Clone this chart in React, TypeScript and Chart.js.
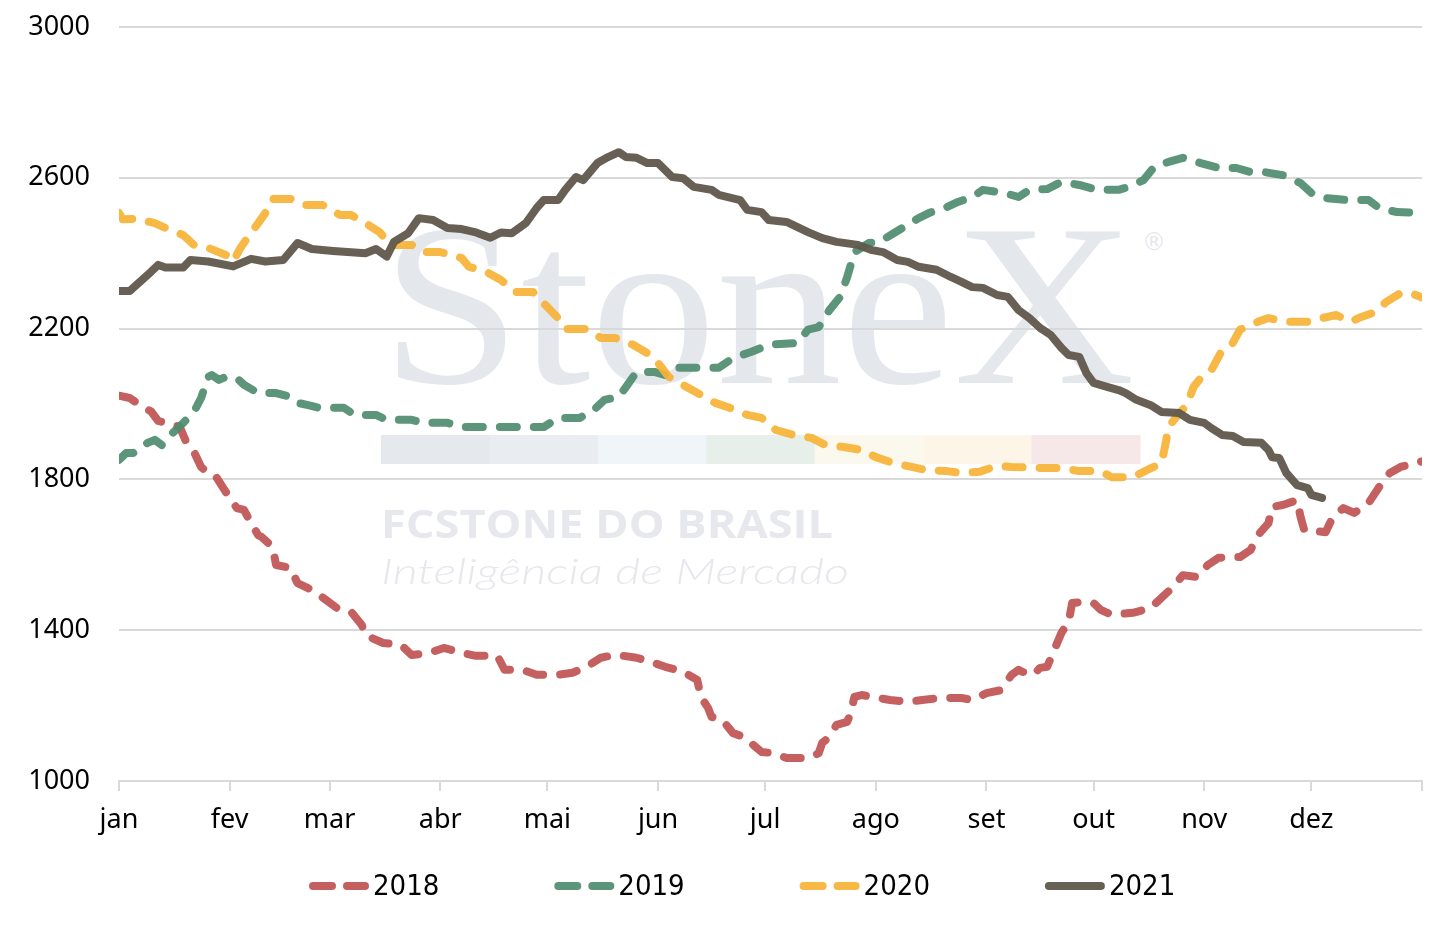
import { useEffect, useRef } from 'react';
import { Chart, registerables } from 'chart.js';

Chart.register(...registerables);

// eixo x: dia do ano, rotulado no inicio de cada mes
const monthLabels = ['jan', 'fev', 'mar', 'abr', 'mai', 'jun', 'jul', 'ago', 'set', 'out', 'nov', 'dez'];
const monthStartDays = [0, 31, 59, 90, 120, 151, 181, 212, 243, 273, 304, 334, 365];
const yTicks = [1000, 1400, 1800, 2200, 2600, 3000];

const seriesLabels = ['2018', '2019', '2020', '2021'];
const seriesColors = ['rgba(192, 82, 82, 0.92)', 'rgba(78, 140, 111, 0.92)', 'rgba(247, 178, 54, 0.92)', 'rgba(96, 87, 76, 0.95)'];

const days2018 = [0, 3, 5, 9, 11, 13, 16, 17, 19, 21, 23, 25, 27, 29, 31, 33, 35, 37, 39, 40, 43, 44, 48, 50, 54, 55, 58, 61, 65, 68, 69, 74, 79, 82, 87, 91, 96, 100, 106, 108, 113, 117, 123, 127, 131, 135, 139, 145, 149, 153, 158, 162, 163, 165, 166, 169, 172, 175, 177, 180, 183, 187, 192, 194, 196, 197, 199, 201, 204, 205, 206, 208, 211, 216, 221, 225, 230, 236, 239, 243, 247, 250, 252, 253, 256, 258, 260, 262, 264, 266, 267, 270, 273, 275, 278, 284, 289, 292, 295, 298, 302, 305, 308, 314, 317, 319, 322, 323, 326, 330, 331, 332, 338, 340, 343, 346, 350, 353, 356, 359, 365];
const values2018 = [2022, 2016, 2003, 1980, 1955, 1950, 1942, 1940, 1895, 1873, 1833, 1817, 1810, 1780, 1751, 1724, 1719, 1684, 1652, 1647, 1621, 1573, 1565, 1525, 1507, 1501, 1480, 1459, 1449, 1414, 1387, 1366, 1361, 1334, 1340, 1353, 1340, 1332, 1332, 1295, 1295, 1282, 1282, 1287, 1303, 1327, 1335, 1327, 1316, 1303, 1290, 1268, 1223, 1194, 1170, 1162, 1127, 1117, 1101, 1077, 1074, 1061, 1061, 1064, 1074, 1101, 1117, 1149, 1157, 1181, 1223, 1228, 1223, 1215, 1210, 1215, 1220, 1220, 1215, 1233, 1241, 1281, 1295, 1290, 1281, 1300, 1303, 1348, 1393, 1422, 1472, 1475, 1472, 1454, 1441, 1446, 1459, 1486, 1512, 1546, 1541, 1573, 1592, 1594, 1613, 1652, 1684, 1727, 1732, 1745, 1700, 1666, 1660, 1700, 1724, 1711, 1737, 1780, 1817, 1833, 1848];

const days2019 = [0, 2, 4, 8, 10, 12, 15, 18, 21, 23, 25, 26, 28, 30, 33, 35, 39, 44, 48, 50, 53, 56, 63, 66, 72, 75, 82, 85, 92, 96, 101, 111, 119, 123, 129, 133, 136, 140, 142, 145, 150, 153, 156, 163, 168, 172, 177, 182, 190, 193, 196, 199, 202, 204, 206, 210, 213, 217, 220, 224, 227, 232, 235, 239, 242, 248, 252, 255, 260, 264, 269, 274, 280, 283, 287, 290, 294, 298, 303, 308, 313, 317, 321, 326, 331, 334, 338, 344, 350, 353, 358, 365];
const values2019 = [1852, 1870, 1870, 1897, 1905, 1891, 1923, 1950, 1979, 2016, 2072, 2077, 2064, 2072, 2069, 2051, 2029, 2029, 2019, 2003, 1997, 1990, 1990, 1971, 1971, 1958, 1958, 1950, 1950, 1939, 1939, 1939, 1939, 1963, 1963, 1984, 2011, 2019, 2045, 2085, 2085, 2077, 2096, 2096, 2096, 2122, 2138, 2157, 2162, 2197, 2204, 2249, 2284, 2337, 2403, 2427, 2430, 2453, 2470, 2493, 2507, 2523, 2536, 2549, 2568, 2560, 2549, 2568, 2570, 2589, 2581, 2568, 2568, 2576, 2594, 2629, 2642, 2653, 2639, 2626, 2626, 2615, 2615, 2607, 2586, 2560, 2546, 2541, 2541, 2520, 2509, 2507];

const days2020 = [0, 1, 5, 10, 13, 18, 21, 25, 30, 32, 34, 36, 39, 41, 43, 48, 52, 57, 62, 65, 69, 73, 76, 82, 85, 90, 96, 98, 103, 107, 111, 116, 120, 123, 125, 131, 135, 139, 144, 148, 151, 154, 159, 163, 167, 171, 176, 180, 184, 189, 194, 198, 203, 208, 212, 216, 222, 226, 232, 236, 241, 246, 250, 259, 264, 269, 275, 278, 284, 288, 292, 293, 294, 297, 299, 301, 303, 306, 309, 312, 314, 319, 322, 327, 333, 337, 341, 345, 348, 352, 355, 359, 362, 365];
const values2020 = [2507, 2490, 2491, 2480, 2467, 2448, 2422, 2414, 2395, 2378, 2414, 2441, 2480, 2507, 2544, 2544, 2528, 2528, 2501, 2501, 2480, 2456, 2422, 2422, 2403, 2403, 2387, 2364, 2350, 2329, 2297, 2297, 2257, 2228, 2199, 2199, 2175, 2175, 2157, 2135, 2109, 2072, 2045, 2024, 2003, 1990, 1971, 1963, 1931, 1918, 1910, 1891, 1886, 1878, 1859, 1846, 1833, 1825, 1822, 1817, 1820, 1836, 1833, 1830, 1830, 1822, 1822, 1806, 1806, 1825, 1843, 1886, 1939, 1976, 1995, 2045, 2069, 2090, 2143, 2162, 2197, 2218, 2228, 2218, 2218, 2228, 2236, 2218, 2231, 2244, 2271, 2294, 2294, 2282];

const days2021 = [0, 3, 9, 11, 13, 18, 20, 25, 32, 37, 41, 46, 50, 54, 60, 69, 72, 75, 77, 81, 84, 88, 92, 96, 100, 104, 107, 110, 114, 117, 119, 123, 125, 128, 130, 134, 137, 140, 142, 145, 148, 151, 155, 158, 161, 166, 168, 174, 176, 180, 182, 187, 193, 197, 201, 207, 211, 214, 218, 221, 224, 229, 233, 236, 239, 242, 246, 249, 252, 255, 258, 261, 264, 266, 269, 271, 273, 277, 280, 282, 285, 289, 292, 297, 300, 304, 306, 309, 312, 315, 320, 322, 323, 325, 327, 330, 333, 334, 337];
const values2021 = [2300, 2300, 2351, 2369, 2362, 2362, 2382, 2378, 2365, 2385, 2378, 2382, 2427, 2411, 2406, 2400, 2411, 2391, 2430, 2453, 2493, 2488, 2467, 2464, 2455, 2441, 2455, 2453, 2480, 2520, 2541, 2541, 2568, 2602, 2594, 2639, 2655, 2668, 2655, 2653, 2639, 2639, 2602, 2599, 2576, 2568, 2555, 2541, 2515, 2509, 2488, 2483, 2456, 2440, 2430, 2422, 2408, 2403, 2382, 2377, 2364, 2356, 2337, 2324, 2310, 2308, 2289, 2284, 2249, 2228, 2202, 2183, 2149, 2130, 2125, 2082, 2056, 2045, 2037, 2029, 2011, 1997, 1979, 1976, 1958, 1950, 1936, 1918, 1915, 1899, 1897, 1878, 1859, 1857, 1817, 1785, 1777, 1759, 1751];

const seriesDays = [days2018, days2019, days2020, days2021];
const seriesValues = [values2018, values2019, values2020, values2021];

const tickFont = { family: '"Noto Sans", sans-serif', size: 27 };
const legendFont = '29px "DejaVu Sans Condensed", "Liberation Sans Narrow", sans-serif';
const lineDash = [17, 17];

// marca d'agua StoneX atras da grade
const watermarkPlugin = {
  id: 'watermark',
  beforeDraw(chart: Chart) {
    const { ctx } = chart;
    ctx.save();
    ctx.fillStyle = '#E4E7EC';

    ctx.font = '232px "Liberation Serif", serif';
    ctx.textBaseline = 'alphabetic';
    const w = ctx.measureText('StoneX').width;
    ctx.save();
    ctx.translate(381, 383);
    ctx.scale(754 / w, 1);
    ctx.fillText('StoneX', 0, 0);
    ctx.restore();

    ctx.font = '24px "DejaVu Sans", sans-serif';
    ctx.fillText('®', 1142, 250);

    const bands = ['#E5E8ED', '#E9EDF1', '#F0F5F9', '#E6EFEA', '#FBF9EE', '#FDF5E8', '#F6E8E8'];
    const bw = (1140 - 381) / bands.length;
    bands.forEach((c, i) => {
      ctx.fillStyle = c;
      ctx.fillRect(381 + i * bw, 435, bw + 0.5, 29);
    });

    ctx.fillStyle = '#E6E8ED';
    ctx.font = 'bold 39px "Open Sans", sans-serif';
    const w2 = ctx.measureText('FCSTONE DO BRASIL').width;
    ctx.save();
    ctx.translate(381, 538);
    ctx.scale(452 / w2, 1);
    ctx.fillText('FCSTONE DO BRASIL', 0, 0);
    ctx.restore();

    ctx.font = 'italic 300 35px Lato, sans-serif';
    const w3 = ctx.measureText('Inteligência de Mercado').width;
    ctx.save();
    ctx.translate(381, 584);
    ctx.scale(468 / w3, 1);
    ctx.fillText('Inteligência de Mercado', 0, 0);
    ctx.restore();

    ctx.restore();
  },
};

// legenda com amostras de linha tracejada
const legendPlugin = {
  id: 'lineLegend',
  afterDraw(chart: Chart) {
    const { ctx } = chart;
    const y = 886;
    const left = 309;
    const spacing = 245.3;
    seriesLabels.forEach((label, i) => {
      const x0 = left + i * spacing;
      ctx.save();
      ctx.strokeStyle = seriesColors[i];
      ctx.lineWidth = 8;
      ctx.lineCap = 'round';
      ctx.setLineDash(i < 3 ? [19, 15] : []);
      ctx.beginPath();
      ctx.moveTo(x0 + 4, y);
      ctx.lineTo(x0 + 56, y);
      ctx.stroke();
      ctx.setLineDash([]);
      ctx.fillStyle = '#000';
      ctx.font = legendFont;
      ctx.textBaseline = 'middle';
      ctx.fillText(label, x0 + 64, y + 1);
      ctx.restore();
    });
  },
};

const App = () => {
  const chartRef = useRef<HTMLCanvasElement | null>(null);
  const chartInstance = useRef<Chart | null>(null);

  useEffect(() => {
    if (!chartRef.current) return;

    if (chartInstance.current) {
      chartInstance.current.destroy();
    }

    chartInstance.current = new Chart(chartRef.current, {
      type: 'line',
      data: {
        datasets: seriesLabels.map((label, i) => ({
          label,
          data: seriesDays[i].map((d, j) => ({ x: d, y: seriesValues[i][j] })),
          borderColor: seriesColors[i],
          borderWidth: 8,
          borderDash: i < 3 ? lineDash : [],
          borderCapStyle: 'round',
          borderJoinStyle: 'round',
          pointRadius: 0,
          tension: 0,
          fill: false,
          order: seriesLabels.length - i, // 2021 por cima
        })),
      },
      options: {
        animation: false,
        responsive: true,
        maintainAspectRatio: false,
        layout: { padding: { top: 27, right: 18, bottom: 102, left: 0 } },
        plugins: {
          legend: { display: false },
          tooltip: { enabled: false },
        },
        scales: {
          x: {
            type: 'linear',
            min: 0,
            max: 365,
            afterBuildTicks: (axis: any) => {
              axis.ticks = monthStartDays.map((v) => ({ value: v }));
            },
            afterFit: (scale: any) => {
              scale.height = 55;
            },
            ticks: {
              autoSkip: false,
              maxRotation: 0,
              padding: 13,
              color: '#000',
              font: tickFont,
              callback: (v: any) => monthLabels[monthStartDays.indexOf(Number(v))] ?? '',
            },
            grid: {
              drawOnChartArea: false,
              drawTicks: true,
              tickLength: 10,
              color: '#D9D9D9',
              lineWidth: 2,
            },
            border: { color: '#D9D9D9', width: 2 },
          },
          y: {
            min: 1000,
            max: 3000,
            afterBuildTicks: (axis: any) => {
              axis.ticks = yTicks.map((v) => ({ value: v }));
            },
            afterFit: (scale: any) => {
              scale.width = 119;
              scale.paddingTop = 0;
              scale.paddingBottom = 0;
            },
            ticks: {
              padding: 29,
              color: '#000',
              font: tickFont,
              callback: (v: any) => String(v),
            },
            grid: { color: '#D9D9D9', lineWidth: 2, drawTicks: false },
            border: { display: false },
          },
        },
      },
      plugins: [watermarkPlugin, legendPlugin],
    } as any);

    return () => {
      if (chartInstance.current) {
        chartInstance.current.destroy();
        chartInstance.current = null;
      }
    };
  }, []);

  return (
    <div style={{ position: 'fixed', left: 0, top: 0, width: 1440, height: 938, background: '#fff' }}>
      <canvas ref={chartRef}></canvas>
    </div>
  );
};

export default App;
